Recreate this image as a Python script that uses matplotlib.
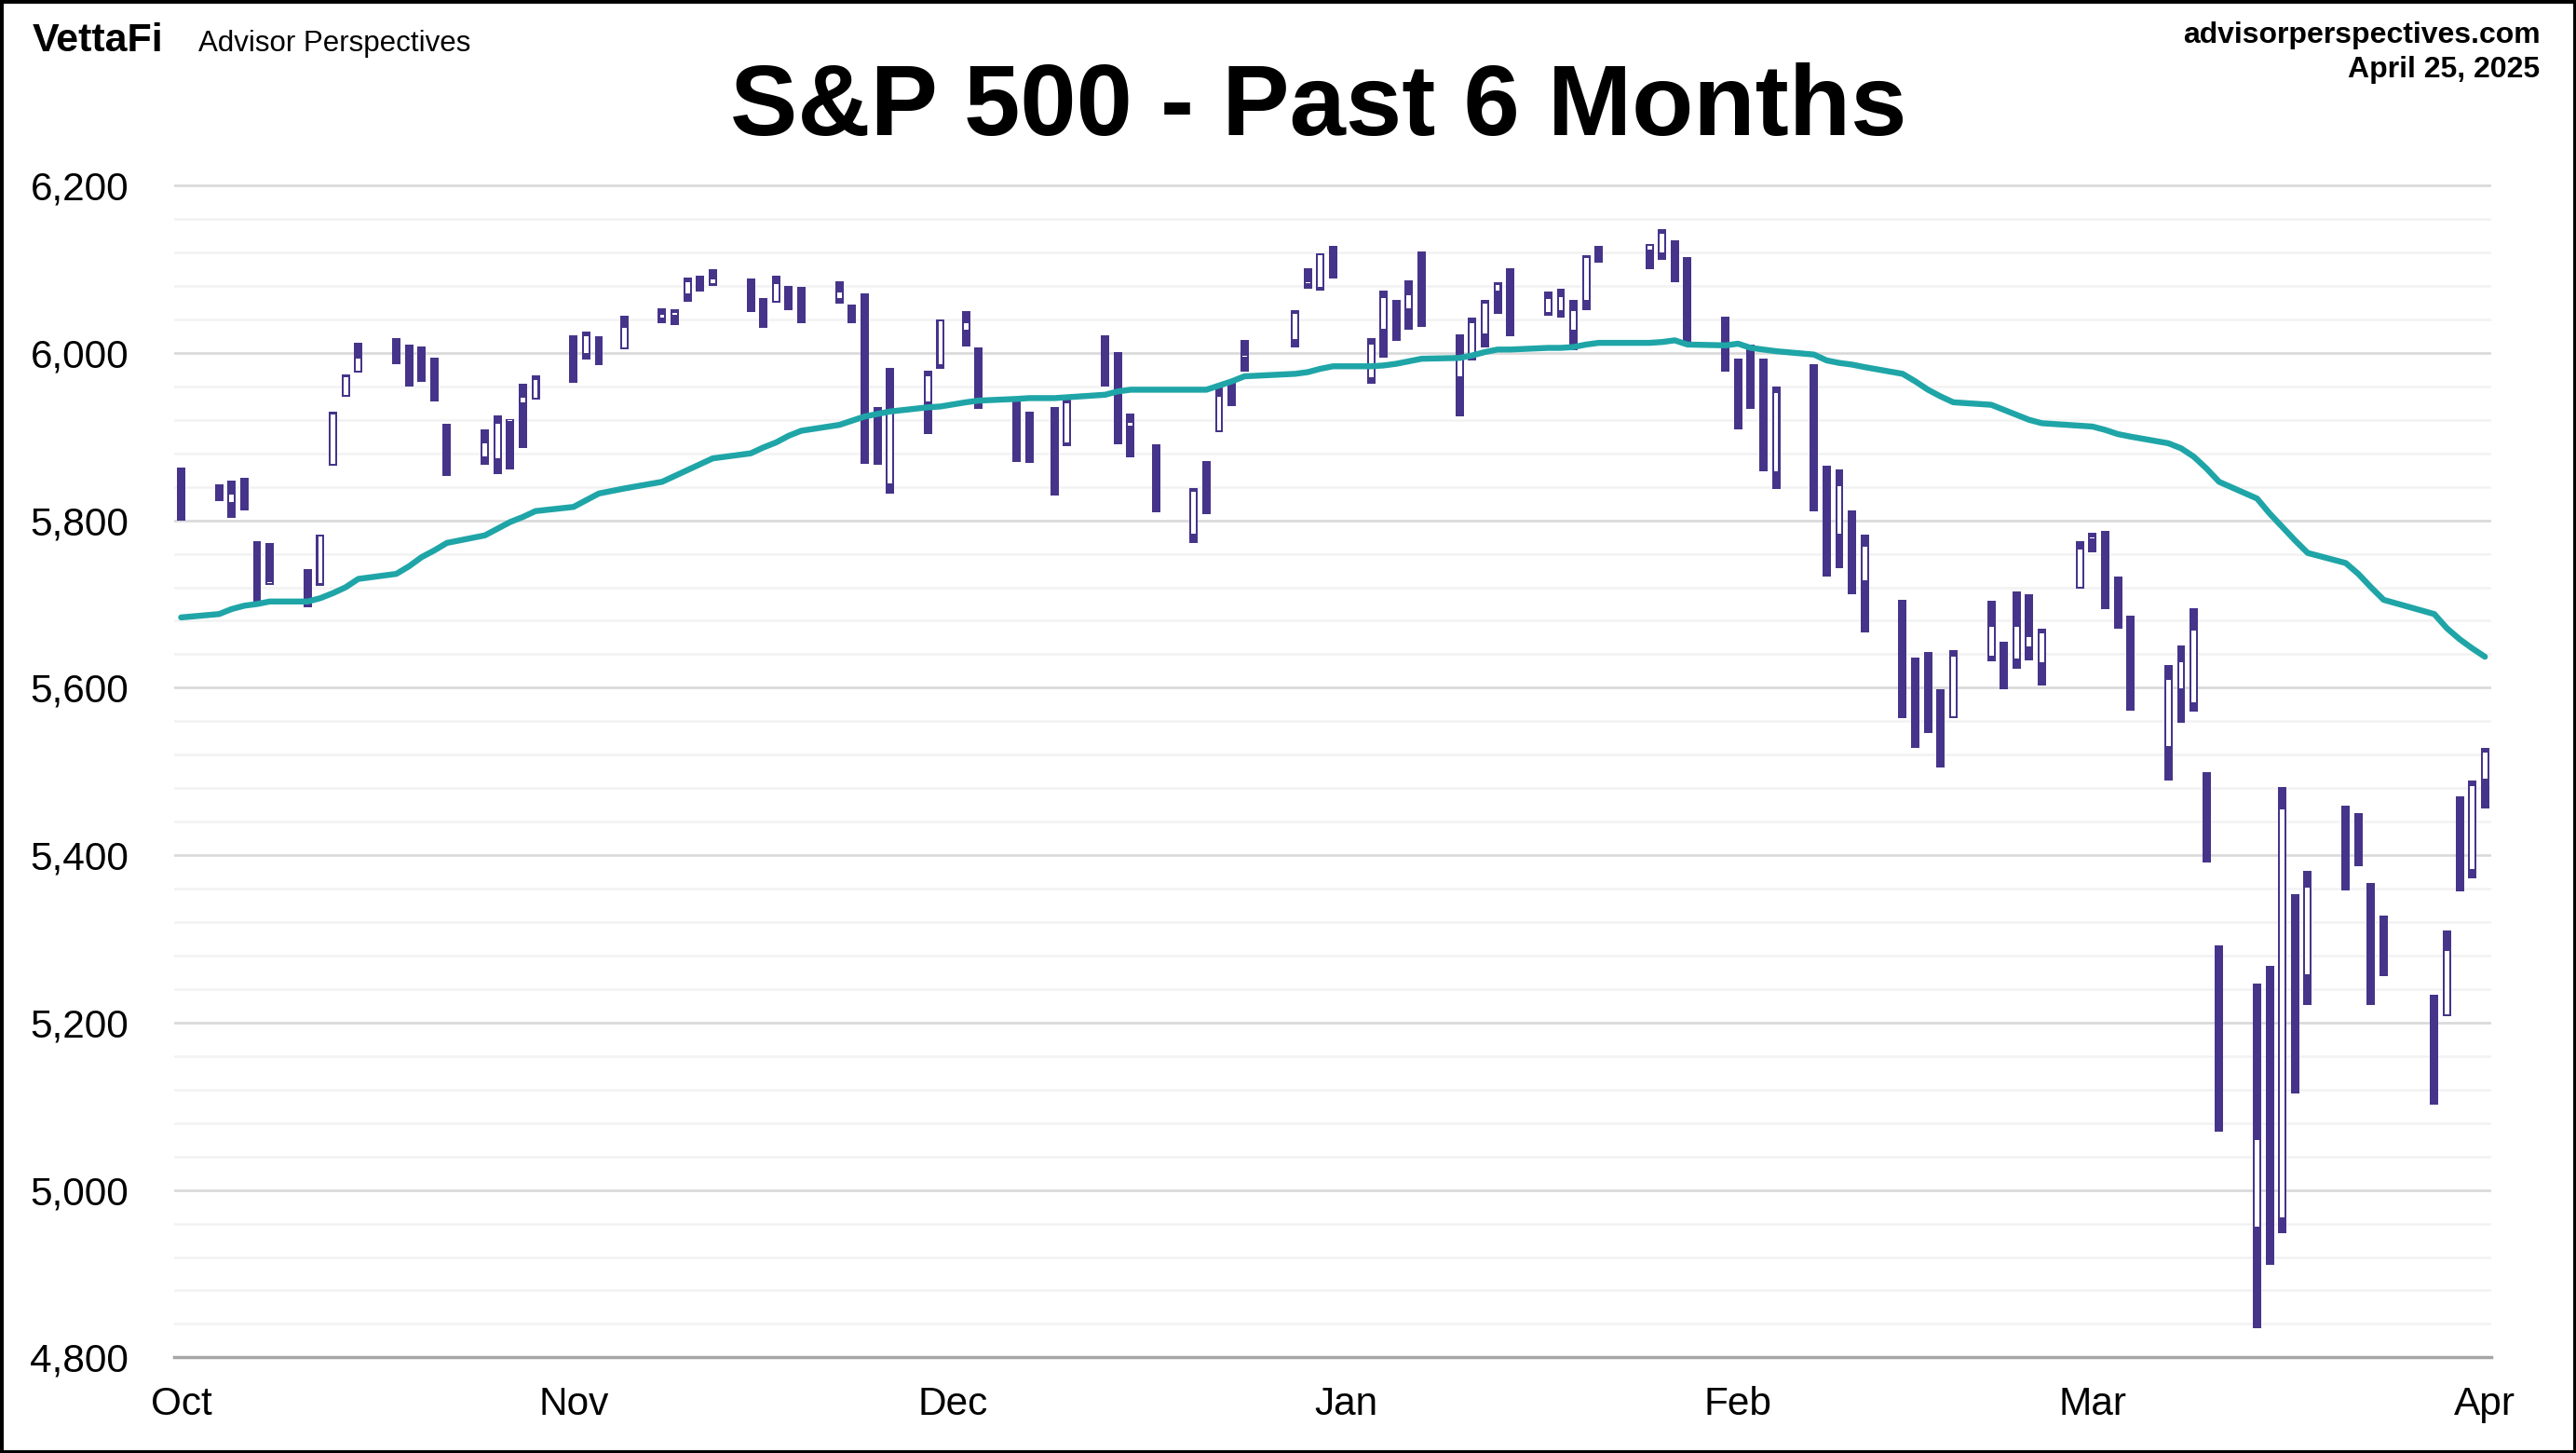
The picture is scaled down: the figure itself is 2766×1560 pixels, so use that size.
import pandas as pd
import matplotlib
matplotlib.use("Agg")
import matplotlib.pyplot as plt
import matplotlib.dates as mdates
from matplotlib.patches import Rectangle

plt.rcParams['font.family'] = ['Liberation Sans', 'DejaVu Sans']

# trading days, Oct 25 2024 - Apr 25 2025 (market holidays removed)
holidays = ["2024-11-28", "2024-12-25", "2025-01-01", "2025-01-09",
            "2025-01-20", "2025-02-17", "2025-04-18"]
dates = pd.bdate_range("2024-10-25", "2025-04-25")
dates = dates[~dates.isin(pd.to_datetime(holidays))]

# daily OHLC
opens = [5826.8, 5833.9, 5819.7, 5832.7, 5775.3,
         5723.2, 5725.2, 5722.4, 5864.9, 5947.2, 5976.8, 6008.9, 6003.6, 5985.8, 5989.7, 5912.8,
         5874.2, 5872.0, 5916.5, 5939.0, 5944.4, 5992.3, 5998.0, 6014.1, 6004.0,
         6040.1, 6043.0, 6069.4, 6089.0, 6081.4, 6083.0, 6057.6, 6060.2, 6074.3, 6068.2,
         6063.8, 6052.6, 6047.7, 5912.7, 5842.0, 5940.3, 5984.6, 6025.0, 6006.2, 5920.7, 5919.7,
         5903.3, 5891.1, 5982.8, 5993.3, 5910.7, 5890.7, 5782.3, 5859.0, 5905.2, 5961.5, 5993.5,
         6014.1, 6081.4, 6076.3, 6121.4, 5969.0, 6027.0, 6057.7, 6050.8, 6096.8,
         5969.7, 5998.1, 6020.5, 6072.2, 6083.1, 6046.4, 6049.3, 6025.1, 6060.6, 6115.5,
         6121.6, 6117.8, 6134.5, 6114.1, 6026.7, 5982.7, 5970.9, 5981.9, 5856.7,
         5968.3, 5812.0, 5781.4, 5785.9, 5726.0, 5705.4, 5603.7, 5624.8, 5594.5, 5563.9,
         5635.6, 5654.5, 5632.4, 5646.9, 5628.0, 5718.1, 5775.9, 5771.7, 5695.6, 5679.7, 5527.9,
         5597.5, 5580.8, 5492.7, 5292.1, 4953.8, 5193.6, 4965.3, 5353.2, 5255.6,
         5442.0, 5412.0, 5335.8, 5305.5, 5232.9, 5207.7, 5395.9, 5381.4, 5489.7]
highs = [5862.8, 5842.9, 5847.2, 5850.9, 5775.3,
         5772.5, 5741.4, 5783.4, 5929.5, 5974.0, 6012.5, 6017.3, 6009.9, 6008.2, 5993.9, 5915.1,
         5908.1, 5925.0, 5920.7, 5963.0, 5972.9, 6020.8, 6025.4, 6020.2, 6044.2,
         6053.6, 6052.1, 6089.8, 6092.5, 6100.0, 6088.5, 6065.4, 6092.6, 6079.7, 6078.6,
         6085.2, 6057.7, 6070.7, 5935.5, 5982.1, 5978.3, 6040.1, 6049.8, 6006.2, 5942.0, 5929.7,
         5935.1, 5949.3, 6021.0, 6000.7, 5927.9, 5890.7, 5838.5, 5870.5, 5960.6, 5964.7, 6015.0,
         6051.5, 6100.8, 6118.7, 6128.2, 6017.2, 6074.0, 6062.8, 6086.6, 6120.9,
         6022.1, 6042.5, 6062.9, 6084.0, 6101.3, 6073.4, 6076.3, 6063.1, 6116.9, 6127.5,
         6129.6, 6147.4, 6134.5, 6114.8, 6043.7, 5992.7, 6009.8, 5993.7, 5959.4,
         5986.1, 5865.1, 5860.6, 5812.1, 5783.0, 5705.4, 5636.3, 5642.2, 5597.8, 5645.3,
         5703.5, 5654.5, 5715.3, 5711.2, 5670.8, 5775.1, 5785.0, 5787.0, 5732.3, 5685.9, 5627.6,
         5650.6, 5695.3, 5499.5, 5292.1, 5246.6, 5267.5, 5481.3, 5353.2, 5381.5,
         5459.5, 5450.4, 5367.2, 5328.3, 5232.9, 5309.6, 5469.7, 5489.4, 5528.1]
lows = [5800.0, 5823.1, 5802.4, 5811.3, 5702.9,
        5723.2, 5696.5, 5722.1, 5864.9, 5947.2, 5976.8, 5986.7, 5960.1, 5965.9, 5942.3, 5853.0,
        5866.0, 5855.7, 5860.6, 5886.0, 5944.4, 5963.9, 5992.3, 5984.9, 6004.0,
        6035.3, 6033.4, 6061.1, 6073.0, 6080.0, 6048.6, 6029.9, 6060.2, 6051.3, 6035.8,
        6059.1, 6035.2, 5867.8, 5866.1, 5832.3, 5902.6, 5981.4, 6007.4, 5933.0, 5869.2, 5868.9,
        5829.5, 5888.7, 5960.0, 5890.7, 5874.8, 5809.2, 5773.3, 5807.4, 5905.2, 5936.4, 5978.0,
        6006.9, 6076.4, 6074.7, 6088.7, 5962.9, 5994.0, 6014.0, 6027.5, 6030.9,
        5923.9, 5990.9, 6007.1, 6046.8, 6020.0, 6044.8, 6042.3, 6003.0, 6050.5, 6107.6,
        6099.5, 6111.2, 6084.6, 6012.0, 5977.8, 5908.5, 5932.7, 5858.8, 5837.7,
        5810.9, 5732.6, 5742.4, 5711.6, 5666.3, 5564.0, 5528.4, 5546.1, 5504.7, 5563.9,
        5631.1, 5597.8, 5622.2, 5632.6, 5603.0, 5718.1, 5762.0, 5694.4, 5670.9, 5572.4, 5488.7,
        5558.5, 5571.5, 5390.8, 5069.9, 4835.0, 4910.4, 4948.4, 5115.3, 5220.8,
        5358.0, 5386.4, 5220.8, 5255.6, 5101.6, 5207.7, 5356.5, 5372.0, 5455.9]
closes = [5808.1, 5823.5, 5832.9, 5813.7, 5705.5,
          5728.8, 5712.7, 5782.8, 5929.0, 5973.1, 5995.5, 6001.4, 5984.0, 5985.4, 5949.2, 5870.6,
          5893.6, 5917.0, 5917.1, 5948.7, 5969.3, 5987.4, 6021.6, 5998.7, 6032.4,
          6047.2, 6049.9, 6086.5, 6075.1, 6090.3, 6052.9, 6034.9, 6084.2, 6051.3, 6051.1,
          6074.1, 6050.6, 5872.2, 5867.1, 5930.9, 5974.1, 6040.0, 6037.6, 5970.8, 5906.9, 5881.6,
          5868.6, 5942.5, 5975.4, 5909.0, 5918.3, 5827.0, 5836.2, 5842.9, 5949.9, 5937.3, 5996.7,
          6049.2, 6086.4, 6118.7, 6101.2, 6012.3, 6067.7, 6039.3, 6071.2, 6040.5,
          5994.6, 6037.9, 6061.5, 6083.6, 6026.0, 6066.4, 6068.5, 6052.0, 6115.1, 6114.6,
          6129.6, 6144.2, 6117.5, 6013.1, 5983.3, 5955.3, 5956.1, 5861.6, 5954.5,
          5849.7, 5778.2, 5842.6, 5738.5, 5770.2, 5614.6, 5572.1, 5599.3, 5521.5, 5638.9,
          5675.1, 5614.7, 5675.3, 5662.9, 5667.6, 5767.6, 5776.7, 5712.2, 5693.3, 5580.9, 5611.9,
          5633.1, 5671.0, 5396.5, 5074.1, 5062.3, 4982.8, 5456.9, 5268.1, 5363.4,
          5406.0, 5396.6, 5275.7, 5282.7, 5158.2, 5287.8, 5375.9, 5484.8, 5525.2]

# moving average line
ma_line = [5684, 5688, 5694, 5698, 5700,
           5703, 5703, 5707, 5713, 5720, 5730, 5736, 5745, 5756, 5764, 5773,
           5782, 5790, 5798, 5804, 5811, 5816, 5824, 5832, 5838,
           5846, 5853, 5860, 5867, 5874, 5880, 5887, 5893, 5901, 5907,
           5914, 5919, 5924, 5927, 5930, 5935, 5936, 5941, 5943, 5945, 5946,
           5946, 5947, 5950, 5954, 5956, 5956, 5956, 5956, 5961, 5966, 5972,
           5975, 5977, 5981, 5984, 5984, 5985, 5987, 5990, 5993,
           5994, 5997, 6001, 6004, 6004, 6006, 6006, 6007, 6010, 6012,
           6012, 6013, 6015, 6010, 6009, 6011, 6006, 6004, 6002,
           5998, 5991, 5988, 5986, 5983, 5975, 5966, 5956, 5948, 5941,
           5938, 5932, 5926, 5920, 5916, 5913, 5912, 5908, 5903, 5900, 5892,
           5886, 5876, 5862, 5846, 5826, 5808, 5792, 5776, 5761,
           5749, 5736, 5720, 5705, 5688, 5671, 5658, 5647, 5637]

month_ticks = pd.to_datetime(["2024-10-25", "2024-11-25", "2024-12-25", "2025-01-25",
                              "2025-02-25", "2025-03-25", "2025-04-25"])
month_labels = ["Oct", "Nov", "Dec", "Jan", "Feb", "Mar", "Apr"]

purple = "#46348a"
teal = "#1fa5a7"

fig = plt.figure(figsize=(27.66, 15.6), dpi=100)
ax = fig.add_axes([0.0676, 0.0658, 0.8995, 0.8077])

x = mdates.date2num(dates)
df = pd.DataFrame({"x": x, "o": opens, "h": highs, "l": lows, "c": closes})

# full range bar, white body inset for up days
ax.bar(df["x"], df["h"] - df["l"], bottom=df["l"], width=0.66, color=purple, zorder=2)
up = df[df["c"] > df["o"]]
inset = 2.2
body_lo = up["o"] + inset
body_hi = (up["c"] - inset).clip(lower=body_lo + 1.0)
ax.bar(up["x"], body_hi - body_lo, bottom=body_lo, width=0.36, color="white", zorder=2)

ax.plot(x, ma_line, color=teal, lw=4.6, zorder=3,
        solid_joinstyle="round", solid_capstyle="round")

ax.set_xlim(x[0] - 0.55, x[-1] + 0.5)
ax.set_ylim(4800, 6202)
ax.set_yticks(range(4800, 6201, 200))
ax.set_yticks(range(4800, 6201, 40), minor=True)
ax.yaxis.set_major_formatter(matplotlib.ticker.FuncFormatter(lambda v, p: f"{v:,.0f}"))
ax.set_xticks(mdates.date2num(month_ticks))
ax.set_xticklabels(month_labels)

ax.grid(which="major", axis="y", color="#d9d9d9", lw=1.9)
ax.grid(which="minor", axis="y", color="#f2f2f2", lw=1.8)
ax.set_axisbelow(True)
for s in ["top", "right", "left"]:
    ax.spines[s].set_visible(False)
ax.spines["bottom"].set_color("#a6a6a6")
ax.spines["bottom"].set_linewidth(2.5)
ax.spines["bottom"].set_zorder(1)
ax.tick_params(axis="both", which="both", length=0, labelsize=30.5)
ax.tick_params(axis="y", pad=35)
ax.tick_params(axis="x", pad=22)

fig.text(0.512, 0.907, "S&P 500 - Past 6 Months", ha="center", va="baseline",
         fontsize=78, fontweight="bold")
fig.text(0.0127, 0.965, "VettaFi", ha="left", va="baseline", fontsize=31, fontweight="heavy")
fig.text(0.077, 0.965, "Advisor Perspectives", ha="left", va="baseline", fontsize=22.5)
fig.text(0.986, 0.9705, "advisorperspectives.com", ha="right", va="baseline",
         fontsize=23, fontweight="bold")
fig.text(0.986, 0.947, "April 25, 2025", ha="right", va="baseline",
         fontsize=23, fontweight="bold")

fig.patches.append(Rectangle((0, 0), 1, 1, transform=fig.transFigure, fill=False,
                             edgecolor="black", lw=5))

fig.savefig("out.png", dpi=100, facecolor="white")
